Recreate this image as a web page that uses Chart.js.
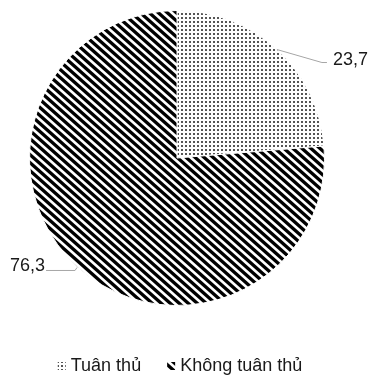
<!DOCTYPE html>
<html>
<head>
<meta charset="utf-8">
<script src="https://cdn.jsdelivr.net/npm/chart.js@4.4.1/dist/chart.umd.min.js"></script>
<style>
    html, body { margin: 0; padding: 0; background: #fff; }
    #wrap { width: 370px; height: 377px; }
</style>
</head>
<body>
<div id="wrap"><canvas id="pieChart" width="370" height="377"></canvas></div>
<script>
// Chart data
const labels = ['Tuân thủ', 'Không tuân thủ'];
const values = [23.7, 76.3];
const valueLabels = ['23,7', '76,3'];

const FONT = '"Liberation Sans", Arial, sans-serif';

// Dotted fill (grey dots)
function makeDotPattern() {
    const c = document.createElement('canvas');
    c.width = 4;
    c.height = 4;
    const g = c.getContext('2d');
    g.fillStyle = '#fff';
    g.fillRect(0, 0, 4, 4);
    g.fillStyle = '#555';
    g.fillRect(1, 1, 2, 2);
    return g.createPattern(c, 'repeat');
}

// Diagonal black stripes going down to the right
function makeStripePattern() {
    const w = 9, h = 8;
    const c = document.createElement('canvas');
    c.width = w;
    c.height = h;
    const g = c.getContext('2d');
    g.fillStyle = '#fff';
    g.fillRect(0, 0, w, h);
    g.strokeStyle = '#000';
    g.lineWidth = 3.3;
    for (let k = -1; k <= 1; k++) {
        g.beginPath();
        g.moveTo(-w, k * h - h);
        g.lineTo(2 * w, k * h + 2 * h);
        g.stroke();
    }
    return g.createPattern(c, 'repeat');
}

const dotPattern = makeDotPattern();
const stripePattern = makeStripePattern();
const fills = [dotPattern, stripePattern];

// Value labels with leader lines
const valueLabelPlugin = {
    id: 'valueLabels',
    afterDatasetsDraw(chart) {
        const ctx = chart.ctx;
        const arcs = chart.getDatasetMeta(0).data;
        ctx.save();
        ctx.font = '18px ' + FONT;
        ctx.textBaseline = 'middle';
        ctx.strokeStyle = '#a6a6a6';
        ctx.lineWidth = 1;
        arcs.forEach((arc, i) => {
            const mid = (arc.startAngle + arc.endAngle) / 2;
            const ex = arc.x + Math.cos(mid) * arc.outerRadius;
            const ey = arc.y + Math.sin(mid) * arc.outerRadius;
            ctx.beginPath();
            ctx.fillStyle = '#1a1a1a';
            if (Math.cos(mid) >= 0) {
                ctx.moveTo(ex, ey);
                ctx.lineTo(ex + 45, ey + 13);
                ctx.lineTo(ex + 50, ey + 13);
                ctx.stroke();
                ctx.textAlign = 'left';
                ctx.fillText(valueLabels[i], ex + 56, ey + 11);
            } else {
                ctx.moveTo(ex, ey + 1);
                ctx.lineTo(ex - 2, ey + 4);
                ctx.lineTo(ex - 31, ey + 4);
                ctx.stroke();
                ctx.textAlign = 'right';
                ctx.fillText(valueLabels[i], ex - 32, ey);
            }
        });
        ctx.restore();
    }
};

// Legend at the bottom
const bottomLegendPlugin = {
    id: 'bottomLegend',
    afterDraw(chart) {
        const ctx = chart.ctx;
        const y = 366;
        const box = 8;
        const gap = 26;
        ctx.save();
        ctx.font = '18px ' + FONT;
        ctx.textBaseline = 'middle';
        ctx.textAlign = 'left';
        const widths = labels.map(l => box + 5 + ctx.measureText(l).width);
        const total = widths.reduce((a, b) => a + b, 0) + gap * (labels.length - 1);
        let x = 180 - total / 2;
        labels.forEach((l, i) => {
            ctx.fillStyle = fills[i];
            ctx.fillRect(x, y - box / 2, box, box);
            ctx.fillStyle = '#1a1a1a';
            ctx.fillText(l, x + box + 5, y);
            x += widths[i] + gap;
        });
        ctx.restore();
    }
};

new Chart(document.getElementById('pieChart'), {
    type: 'pie',
    data: {
        labels: labels,
        datasets: [{
            data: values,
            backgroundColor: fills,
            borderColor: '#ffffff',
            borderWidth: 1
        }]
    },
    options: {
        responsive: false,
        animation: false,
        layout: {
            padding: { left: 29, right: 45, top: 10, bottom: 71 }
        },
        plugins: {
            legend: { display: false },
            tooltip: { enabled: false }
        }
    },
    plugins: [valueLabelPlugin, bottomLegendPlugin]
});
</script>
</body>
</html>
